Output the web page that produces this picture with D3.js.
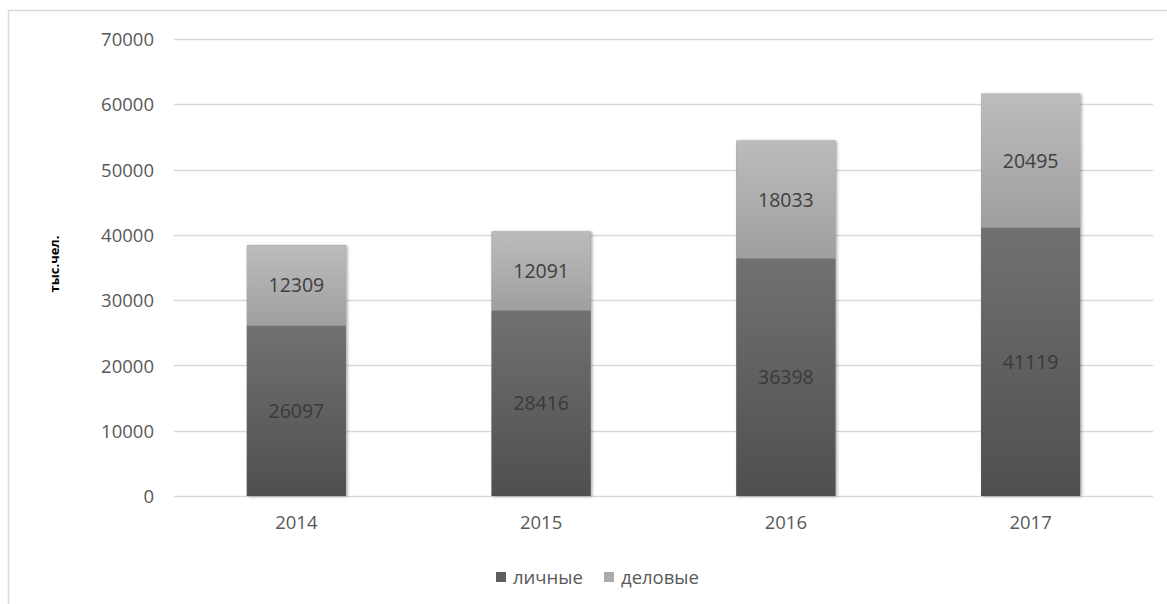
<!DOCTYPE html>
<html>
<head>
<meta charset="utf-8">
<script src="https://cdn.jsdelivr.net/npm/d3@7"></script>
<style>
  html, body { margin: 0; padding: 0; background: #fff; }
  svg { display: block; }
  svg text { font-family: "Open Sans", "Noto Sans", sans-serif; }
</style>
</head>
<body>
<svg id="chart" width="1167" height="604"></svg>
<script>
// Trips by purpose, thousand people
const years = ["2014", "2015", "2016", "2017"];
const personal = [26097, 28416, 36398, 41119];
const business = [12309, 12091, 18033, 20495];
const yTicks = [0, 10000, 20000, 30000, 40000, 50000, 60000, 70000];
const seriesNames = ["личные", "деловые"];
const yTitle = "тыс.чел.";

const svg = d3.select("#chart");
const W = 1167, H = 604;
const plot = { left: 174, right: 1153, top: 39, bottom: 496 };

// outer frame (left and top edges visible)
svg.append("path")
  .attr("d", `M8.5,${H} L8.5,10.5 L${W},10.5`)
  .attr("fill", "none").attr("stroke", "#d9d9d9").attr("stroke-width", 1.5);

const x = d3.scaleBand().domain(years).range([plot.left, plot.right]).paddingInner(0.595).paddingOuter(0.2975);
const y = d3.scaleLinear().domain([0, 70000]).range([plot.bottom, plot.top]);

const defs = svg.append("defs");
function grad(id, top, bottom) {
  const g = defs.append("linearGradient").attr("id", id).attr("x1", 0).attr("y1", 0).attr("x2", 0).attr("y2", 1);
  g.append("stop").attr("offset", "0%").attr("stop-color", top);
  g.append("stop").attr("offset", "100%").attr("stop-color", bottom);
}
grad("gPersonal", "#717171", "#4f4f4f");
grad("gBusiness", "#bcbcbc", "#9f9f9f");
const shadow = defs.append("filter").attr("id", "shadow").attr("x", "-10%").attr("y", "-10%").attr("width", "130%").attr("height", "130%");
shadow.append("feDropShadow").attr("dx", 1.5).attr("dy", 0.5).attr("stdDeviation", 1.5).attr("flood-color", "#000").attr("flood-opacity", 0.35);

// gridlines
svg.append("g").selectAll("line").data(yTicks).join("line")
  .attr("x1", plot.left).attr("x2", plot.right)
  .attr("y1", d => Math.round(y(d)) + 0.5).attr("y2", d => Math.round(y(d)) + 0.5)
  .attr("stroke", "#d9d9d9").attr("stroke-width", 1.5);

// y axis labels
const yAxis = d3.axisLeft(y).tickValues(yTicks).tickSize(0).tickPadding(0).tickFormat(d3.format("d"));
const yg = svg.append("g").attr("transform", `translate(${plot.left - 20},0)`).call(yAxis)
  .attr("font-family", null).attr("font-size", null);
yg.select(".domain").remove();
yg.selectAll("text").attr("fill", "#595959").style("font-size", "18.5px").attr("dy", "0.36em");

// x axis labels
const xAxis = d3.axisBottom(x).tickSize(0).tickPadding(0);
const xg = svg.append("g").attr("transform", `translate(0,${plot.bottom + 26})`).call(xAxis)
  .attr("font-family", null).attr("font-size", null);
xg.select(".domain").remove();
xg.selectAll("text").attr("fill", "#595959").style("font-size", "18.5px").attr("y", 0).attr("dy", "0.36em");

// stacked bars
const rows = years.map((yr, i) => ({ year: yr, personal: personal[i], business: business[i] }));
const stack = d3.stack().keys(["personal", "business"])(rows);
const fills = { personal: "url(#gPersonal)", business: "url(#gBusiness)" };
const labelColor = { personal: "#3a3a3a", business: "#404040" };

const barG = svg.append("g");
rows.forEach(r => {
  barG.append("rect")
    .attr("x", x(r.year)).attr("width", x.bandwidth())
    .attr("y", y(r.personal + r.business)).attr("height", y(0) - y(r.personal + r.business))
    .attr("fill", "#888").attr("filter", "url(#shadow)");
});
stack.forEach(layer => {
  barG.append("g").selectAll("rect").data(layer).join("rect")
    .attr("x", d => x(d.data.year)).attr("width", x.bandwidth())
    .attr("y", d => y(d[1])).attr("height", d => y(d[0]) - y(d[1]))
    .attr("fill", fills[layer.key]);
  barG.append("g").selectAll("text").data(layer).join("text")
    .attr("x", d => x(d.data.year) + x.bandwidth() / 2)
    .attr("y", d => y((d[0] + d[1]) / 2))
    .attr("dy", "0.36em").attr("text-anchor", "middle")
    .attr("fill", labelColor[layer.key]).style("font-size", "19.5px")
    .text(d => d[1] - d[0]);
});

// y axis title
svg.append("text")
  .attr("transform", "translate(54,264) rotate(-90)")
  .attr("text-anchor", "middle").attr("dy", "0.36em").attr("fill", "#000")
  .style("font-size", "13px").style("font-weight", "bold")
  .text(yTitle);

// legend
const legend = svg.append("g").attr("transform", "translate(496,577)");
const legendItems = [
  { name: seriesNames[0], color: "#5e5e5e", dx: 0 },
  { name: seriesNames[1], color: "#ababab", dx: 108 }
];
legendItems.forEach(it => {
  legend.append("rect").attr("x", it.dx).attr("y", -5).attr("width", 10).attr("height", 10).attr("fill", it.color);
  legend.append("text").attr("x", it.dx + 17).attr("y", 0).attr("dy", "0.36em")
    .attr("fill", "#595959").style("font-size", "18.5px").text(it.name);
});
</script>
</body>
</html>
